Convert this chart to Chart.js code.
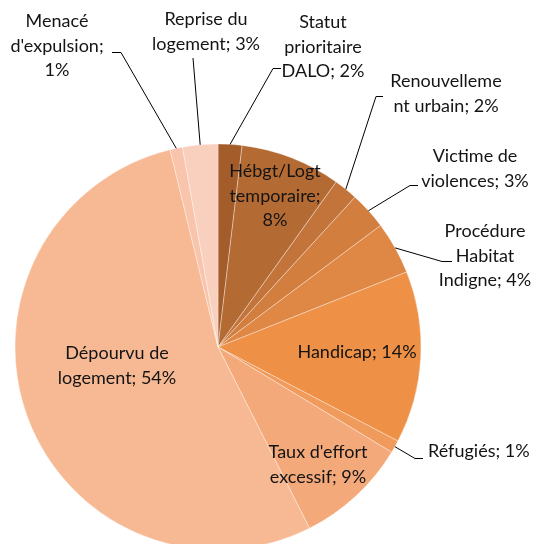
<!DOCTYPE html>
<html>
<head>
<meta charset="utf-8">
<script src="https://cdn.jsdelivr.net/npm/chart.js@4/dist/chart.umd.min.js"></script>
<style>
  html, body { margin: 0; padding: 0; background: #fff; overflow: hidden; }
  #wrap { width: 535px; height: 544px; overflow: hidden; }
</style>
</head>
<body>
<div id="wrap"><canvas id="camembert" width="535" height="560"></canvas></div>
<script>
// Motifs de recours (en %), dans le sens horaire depuis midi
const categories = [
  'Statut prioritaire DALO',
  'Hébgt/Logt temporaire',
  'Renouvellement urbain',
  'Victime de violences',
  'Procédure Habitat Indigne',
  'Handicap',
  'Réfugiés',
  "Taux d'effort excessif",
  'Dépourvu de logement',
  "Menacé d'expulsion",
  'Reprise du logement'
];
const values = [1.9, 8.0, 1.9, 3.0, 4.2, 13.7, 1.0, 8.9, 53.7, 1.0, 2.8];

const colors = [
  '#A45D2A', '#B46A33', '#C3743A', '#D17E3F', '#DF8744', '#EE9147',
  '#F09A5B', '#F4A97A', '#F7B994', '#F8C4AB', '#F9D0BE'
];

// placement des étiquettes : centre x, 1re ligne y, coupures (nb de caractères), coudes du trait
const labelLayout = [
  { x: 323, y: 28, wrap: [6, 11], leader: [[273, 68.5], [281, 68.5]] },
  { x: 275, y: 177, wrap: [10, 11] },
  { x: 446, y: 87, wrap: [12], leader: [[376, 96.5], [383, 96.5]] },
  { x: 475, y: 162, wrap: [10], leader: [[410, 185.5], [418, 185.5]] },
  { x: 485, y: 237, wrap: [9, 7], leader: [[442, 261.5], [452, 261.5]] },
  { x: 357, y: 358, wrap: [] },
  { x: 428, y: 457, wrap: [], align: 'left', leader: [[415, 458.5], [423, 458.5]] },
  { x: 318, y: 458, wrap: [13] },
  { x: 117, y: 359, wrap: [11] },
  { x: 57, y: 27, wrap: [6, 12], leader: [[121, 52.5], [112, 52.5]] },
  { x: 206, y: 25, wrap: [10], leader: [[193, 58]] }
];

function cutLines(text, wrap) {
  const out = [];
  let s = text;
  wrap.forEach(n => {
    out.push(s.slice(0, n).trim());
    s = s.slice(n);
    if (s[0] === ' ') s = s.slice(1);
  });
  out.push(s);
  return out;
}

const etiquettes = {
  id: 'etiquettes',
  afterDatasetsDraw(chart) {
    const ctx = chart.ctx;
    const meta = chart.getDatasetMeta(0);
    const total = values.reduce((a, b) => a + b, 0);
    ctx.save();
    ctx.font = '18px Lato';
    ctx.fillStyle = '#141414';
    ctx.strokeStyle = '#000';
    ctx.lineWidth = 1;
    ctx.textBaseline = 'alphabetic';
    meta.data.forEach((arc, i) => {
      const lay = labelLayout[i];
      const pct = Math.round(values[i] / total * 100);
      const lines = cutLines(categories[i] + '; ' + pct + '%', lay.wrap);
      if (lay.leader) {
        const p = arc.getProps(['x', 'y', 'startAngle', 'endAngle', 'outerRadius'], true);
        const mid = (p.startAngle + p.endAngle) / 2;
        ctx.beginPath();
        ctx.moveTo(p.x + Math.cos(mid) * p.outerRadius, p.y + Math.sin(mid) * p.outerRadius);
        lay.leader.forEach(([lx, ly]) => ctx.lineTo(lx, ly));
        ctx.stroke();
      }
      ctx.textAlign = lay.align || 'center';
      lines.forEach((t, k) => ctx.fillText(t, lay.x, lay.y + k * 24.5));
    });
    ctx.restore();
  }
};

const ctx = document.getElementById('camembert').getContext('2d');
new Chart(ctx, {
  type: 'pie',
  data: {
    labels: categories,
    datasets: [{
      data: values,
      backgroundColor: colors,
      borderColor: 'rgba(255,255,255,0.35)',
      borderWidth: 1
    }]
  },
  options: {
    responsive: false,
    animation: false,
    devicePixelRatio: 1,
    radius: 203,
    layout: { padding: { left: 14, right: 113, top: 143, bottom: 9 } },
    plugins: {
      legend: { display: false },
      tooltip: { enabled: false }
    }
  },
  plugins: [etiquettes]
});
</script>
</body>
</html>
